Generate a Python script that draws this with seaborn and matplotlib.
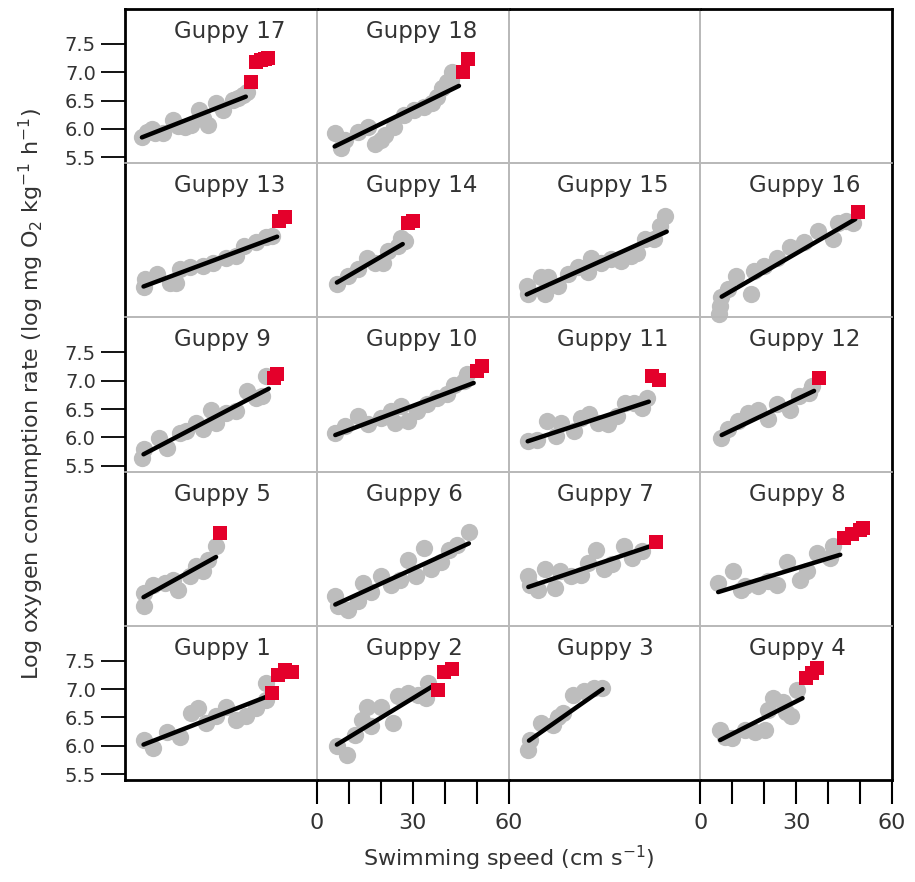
import matplotlib
matplotlib.use("Agg")
import matplotlib.pyplot as plt
import pandas as pd
import seaborn as sns

# panel layout (None = empty panel)
PANELS = [[17, 18, None, None],
          [13, 14, 15, 16],
          [9, 10, 11, 12],
          [5, 6, 7, 8],
          [1, 2, 3, 4]]

# grey points: aerobic swimming trials
GRAY_SPEED = {
    17: [5.3, 6.8, 8.4, 9.5, 12.0, 15.1, 16.5, 18.7, 20.8, 23.3, 24.5, 25.9, 28.5, 30.6, 33.7, 35.5, 36.8, 38.3],
    18: [5.6, 7.7, 8.9, 13.0, 16.1, 18.2, 20.2, 21.2, 24.3, 27.4, 30.5, 33.6, 36.2, 37.7, 39.3, 40.8, 42.4, 41.9],
    13: [5.8, 6.3, 9.9, 14.1, 16.1, 17.1, 20.2, 24.4, 27.5, 31.6, 34.7, 37.3, 40.9, 44.0, 46.0],
    14: [6.3, 9.9, 13.0, 15.6, 18.1, 20.7, 22.3, 25.4, 26.4, 27.5],
    15: [5.7, 6.2, 10.3, 12.4, 11.3, 15.5, 18.6, 21.7, 24.8, 25.8, 28.9, 32.0, 35.1, 38.2, 40.2, 42.8, 45.4, 47.5, 49.0],
    16: [6.0, 6.1, 6.6, 8.6, 11.2, 15.9, 16.9, 20.0, 24.1, 28.2, 32.4, 36.9, 41.6, 43.2, 45.7, 47.8],
    9: [5.3, 5.8, 10.5, 13.0, 17.1, 19.2, 22.3, 24.4, 27.0, 28.5, 31.6, 34.7, 38.3, 40.9, 43.0, 44.0],
    10: [5.8, 8.9, 13.0, 16.1, 20.2, 23.3, 26.4, 24.4, 28.5, 31.5, 34.6, 37.7, 40.8, 42.9, 46.0, 47.0],
    11: [6.2, 8.8, 11.9, 15.0, 16.5, 20.6, 22.7, 25.3, 27.9, 31.0, 34.1, 36.6, 39.2, 41.8, 43.3],
    12: [6.5, 8.7, 11.8, 14.9, 18.0, 21.1, 24.1, 28.2, 30.8, 33.9, 35.0],
    5: [5.8, 5.8, 8.9, 12.4, 14.9, 16.6, 20.2, 22.3, 24.4, 25.9, 28.5],
    6: [5.8, 6.8, 9.9, 13.0, 14.5, 17.1, 20.2, 23.3, 25.9, 28.5, 31.1, 33.6, 35.7, 38.8, 41.4, 44.0, 47.6],
    7: [6.2, 6.7, 11.3, 9.3, 14.4, 16.0, 19.6, 22.7, 24.8, 27.3, 29.9, 32.5, 36.1, 38.7, 41.8],
    8: [5.6, 10.3, 12.8, 13.9, 18.0, 21.1, 24.1, 27.2, 31.3, 33.4, 36.5, 40.6, 41.6],
    1: [5.8, 8.9, 13.0, 17.1, 20.8, 22.8, 25.4, 28.5, 31.6, 34.7, 37.8, 40.9, 44.0, 44.0],
    2: [6.3, 9.4, 12.0, 14.1, 15.6, 17.1, 20.2, 23.9, 25.4, 28.5, 31.6, 34.2, 34.7],
    3: [6.2, 6.7, 10.3, 13.9, 15.5, 17.0, 20.1, 23.7, 26.8, 29.4],
    4: [6.2, 7.7, 9.8, 13.9, 17.0, 20.1, 21.1, 22.7, 25.8, 26.8, 28.3, 30.4],
}
GRAY_RATE = {
    17: [5.85, 5.95, 6.0, 5.92, 5.92, 6.16, 6.05, 6.04, 6.07, 6.33, 6.2, 6.07, 6.45, 6.33, 6.51, 6.55, 6.6, 6.66],
    18: [5.92, 5.66, 5.80, 5.95, 6.04, 5.74, 5.80, 5.89, 6.04, 6.25, 6.33, 6.39, 6.45, 6.57, 6.72, 6.83, 7.01, 6.86],
    13: [5.94, 6.07, 6.16, 6.01, 6.01, 6.25, 6.28, 6.31, 6.36, 6.45, 6.48, 6.66, 6.72, 6.81, 6.84],
    14: [5.98, 6.13, 6.25, 6.45, 6.36, 6.36, 6.57, 6.66, 6.80, 6.75],
    15: [5.95, 5.80, 6.10, 6.10, 5.80, 5.95, 6.16, 6.28, 6.19, 6.45, 6.36, 6.42, 6.39, 6.48, 6.54, 6.78, 6.78, 7.01, 7.19],
    16: [5.45, 5.60, 5.75, 5.89, 6.13, 5.80, 6.22, 6.30, 6.45, 6.63, 6.72, 6.92, 6.78, 7.07, 7.10, 7.07],
    9: [5.64, 5.79, 5.99, 5.81, 6.08, 6.11, 6.26, 6.14, 6.49, 6.26, 6.43, 6.46, 6.82, 6.70, 6.73, 7.08],
    10: [6.08, 6.20, 6.37, 6.23, 6.35, 6.46, 6.55, 6.26, 6.29, 6.46, 6.58, 6.70, 6.76, 6.93, 6.99, 7.11],
    11: [5.93, 5.96, 6.29, 6.02, 6.26, 6.11, 6.35, 6.41, 6.26, 6.23, 6.37, 6.61, 6.61, 6.52, 6.70],
    12: [5.99, 6.14, 6.29, 6.43, 6.49, 6.32, 6.58, 6.49, 6.73, 6.79, 6.90],
    5: [5.74, 5.97, 6.12, 6.15, 6.21, 6.03, 6.27, 6.45, 6.36, 6.56, 6.80],
    6: [5.92, 5.74, 5.68, 5.83, 6.15, 6.00, 6.27, 6.12, 6.21, 6.56, 6.27, 6.77, 6.39, 6.53, 6.74, 6.83, 7.06],
    7: [6.27, 6.12, 6.39, 6.03, 6.06, 6.36, 6.27, 6.30, 6.51, 6.74, 6.39, 6.48, 6.80, 6.59, 6.71],
    8: [6.15, 6.36, 6.03, 6.09, 6.09, 6.18, 6.12, 6.53, 6.21, 6.36, 6.68, 6.59, 6.80],
    1: [6.10, 5.96, 6.25, 6.16, 6.57, 6.66, 6.40, 6.52, 6.69, 6.46, 6.52, 6.66, 7.10, 6.81],
    2: [5.99, 5.84, 6.19, 6.46, 6.69, 6.34, 6.69, 6.40, 6.87, 6.93, 6.90, 6.84, 7.10],
    3: [5.93, 6.10, 6.40, 6.37, 6.50, 6.57, 6.90, 6.96, 7.02, 7.02],
    4: [6.28, 6.16, 6.13, 6.28, 6.25, 6.28, 6.63, 6.84, 6.78, 6.60, 6.52, 6.99],
}

# red squares: trials above the breakpoint
RED_SPEED = {17: [39.3, 41.0, 42.4, 43.8, 44.6], 18: [45.9, 47.2], 13: [48.1, 50.2], 14: [28.5, 30.0],
             16: [49.5], 9: [46.6, 47.6], 10: [50.2, 51.8], 11: [44.9, 47.0], 12: [37.1],
             5: [29.7], 7: [46.2], 8: [44.9, 47.4, 50.0, 51.0], 1: [46.1, 47.9, 50.0, 52.1],
             2: [37.9, 39.8, 42.4], 4: [33.0, 35.0, 36.6]}
RED_RATE = {17: [6.83, 7.19, 7.21, 7.23, 7.25], 18: [7.00, 7.23], 13: [7.10, 7.16], 14: [7.07, 7.10],
            16: [7.25], 9: [7.05, 7.11], 10: [7.17, 7.26], 11: [7.08, 7.02], 12: [7.04],
            5: [7.04], 7: [6.87], 8: [6.95, 7.01, 7.09, 7.12], 1: [6.94, 7.25, 7.34, 7.31],
            2: [6.98, 7.31, 7.35], 4: [7.19, 7.28, 7.37]}

# fitted line: start and end (speed, rate)
FIT_SPEED = {17: [5.3, 37.8], 18: [5.6, 44.5], 13: [5.8, 47.6], 14: [6.3, 26.9], 15: [5.7, 49.5],
             16: [6.7, 48.5], 9: [5.8, 45.0], 10: [5.8, 49.1], 11: [6.0, 43.9], 12: [6.7, 35.6],
             5: [5.8, 28.5], 6: [5.8, 47.6], 7: [6.2, 44.9], 8: [5.6, 43.8], 1: [5.8, 44.5],
             2: [6.3, 36.2], 3: [6.4, 29.4], 4: [6.2, 32.0]}
FIT_RATE = {17: [5.85, 6.57], 18: [5.69, 6.76], 13: [5.94, 6.82], 14: [6.01, 6.69], 15: [5.80, 6.91],
            16: [5.76, 7.13], 9: [5.70, 6.86], 10: [6.04, 6.96], 11: [5.93, 6.63], 12: [6.04, 6.82],
            5: [5.90, 6.61], 6: [5.77, 6.85], 7: [6.08, 6.81], 8: [5.99, 6.65], 1: [6.02, 6.87],
            2: [6.02, 7.05], 3: [6.09, 7.00], 4: [6.10, 6.84]}

Y_TICKS = [5.5, 6.0, 6.5, 7.0, 7.5]
X_TICKS = [0, 10, 20, 30, 40, 50, 60]
X_LABELS = ["0", "", "", "30", "", "", "60"]

GREY = "#bdbdbd"
RED = "#e4002b"
GRID = "#b8b8b8"
TEXT = "#333333"

sns.set_style("white")
plt.rcParams["font.family"] = ["DejaVu Sans"]

fig, axes = plt.subplots(5, 4, figsize=(9.15, 8.82), dpi=100,
                         gridspec_kw=dict(left=0.1366, right=0.9749, top=0.9898, bottom=0.1156,
                                          wspace=0, hspace=0))
fig.patch.set_facecolor("white")

for r, row in enumerate(PANELS):
    for c, g in enumerate(row):
        ax = axes[r, c]
        ax.set_facecolor("none")
        if g is not None:
            pts = pd.DataFrame({"speed": GRAY_SPEED[g], "rate": GRAY_RATE[g]})
            sns.scatterplot(data=pts, x="speed", y="rate", color=GREY, s=155, linewidth=0,
                            ax=ax, clip_on=False, zorder=1)
            sns.lineplot(x=FIT_SPEED[g], y=FIT_RATE[g], color="black", linewidth=3.2, ax=ax, zorder=2)
            if g in RED_SPEED:
                sns.scatterplot(x=RED_SPEED[g], y=RED_RATE[g], color=RED, marker="s", s=95,
                                linewidth=0, ax=ax, clip_on=False, zorder=3)
            ax.text(0.255, 0.812, f"Guppy {g}", transform=ax.transAxes, ha="left", va="baseline",
                    fontsize=16.5, color=TEXT)
        ax.set_xlim(0, 60)
        ax.set_ylim(5.394, 8.118)
        ax.set(xlabel="", ylabel="")

        # y ticks on the 1st, 3rd and 5th rows of the left column
        if c == 0 and r in (0, 2, 4):
            ax.set_yticks(Y_TICKS)
            ax.set_yticklabels([f"{v:.1f}" for v in Y_TICKS])
            ax.tick_params(axis="y", left=True, length=17, width=1.3, pad=4,
                           labelsize=14, colors="black", labelcolor=TEXT)
        else:
            ax.set_yticks([])
        # x ticks under the 2nd and 4th columns
        if r == 4 and c in (1, 3):
            ax.set_xticks(X_TICKS)
            ax.set_xticklabels(X_LABELS)
            ax.tick_params(axis="x", bottom=True, length=17, width=1.5, pad=7,
                           labelsize=16, colors="black", labelcolor=TEXT)
        else:
            ax.set_xticks([])

        for side, sp in ax.spines.items():
            sp.set_color(GRID)
            sp.set_linewidth(1.2)
        if r == 0:
            ax.spines["top"].set_color("black")
            ax.spines["top"].set_linewidth(2)
        if r == 4:
            ax.spines["bottom"].set_color("black")
            ax.spines["bottom"].set_linewidth(2)
        if c == 0:
            ax.spines["left"].set_color("black")
            ax.spines["left"].set_linewidth(2)
        if c == 3:
            ax.spines["right"].set_color("black")
            ax.spines["right"].set_linewidth(2)
        for sp in ax.spines.values():
            sp.set_zorder(5)

fig.text(0.034, 0.553, r"Log oxygen consumption rate (log mg O$_2$ kg$^{-1}$ h$^{-1}$)",
         rotation=90, ha="center", va="center", fontsize=16, color=TEXT)
fig.text(0.556, 0.018, r"Swimming speed (cm s$^{-1}$)", ha="center", va="baseline",
         fontsize=16, color=TEXT)

fig.savefig("out.png", dpi=100, facecolor="white")
